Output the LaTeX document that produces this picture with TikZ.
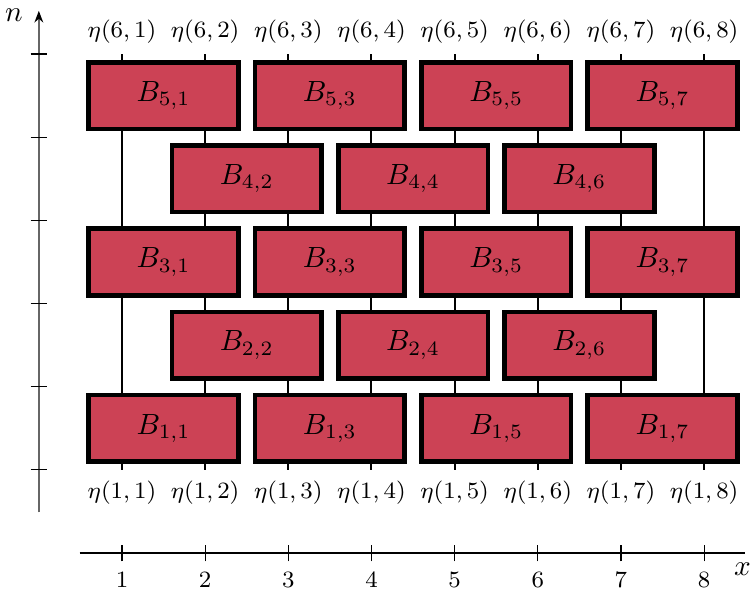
\documentclass[tikz,border=0pt]{standalone}
\usetikzlibrary{arrows.meta}
\definecolor{blockred}{RGB}{204,66,85}
\begin{document}
\begin{tikzpicture}[
  blk/.style={draw=black, line width=1.6pt, fill=blockred, minimum width=1.8cm, minimum height=0.8cm, inner sep=0pt, font=\normalsize},
  wire/.style={line width=0.7pt},
  etalab/.style={font=\footnotesize, inner sep=0pt},
  ticklab/.style={font=\footnotesize, inner sep=0pt}
]
\useasboundingbox (-0.467,-0.493) rectangle (8.60,6.65);
% axes
\coordinate (ybot) at (0,0.49);
\coordinate (ytop) at (0,6.52);
\draw[gray!80!black, line width=0.6pt, -{Stealth[length=4pt,width=3pt,black]}] (ybot) -- (ytop);
\node[inner sep=0pt] (nlab) at (-0.3,6.47) {$n$};
\foreach \k in {1,...,6} {
  \coordinate (yt\k) at (0,\k);
  \draw[line width=0.4pt] ([xshift=-0.1cm]yt\k) -- ([xshift=0.1cm]yt\k);
}
\coordinate (xl) at (0.49,0);
\coordinate (xr) at (8.49,0);
\draw[line width=0.5pt] (xl) -- (xr);
\node[inner sep=0pt] (xlab) at (8.46,-0.2) {$x$};
\foreach \j in {1,...,8} {
  \coordinate (xt\j) at (\j,0);
  \draw[line width=0.4pt] ([yshift=-0.1cm]xt\j) -- ([yshift=0.1cm]xt\j);
  \node[ticklab] (tl\j) at (\j,-0.33) {$\j$};
  % wires
  \coordinate (wb\j) at (\j,1);
  \coordinate (wt\j) at (\j,6);
  \draw[wire] (wb\j) -- (wt\j);
  \node[etalab] (eb\j) at (\j,0.72) {$\eta(1,\j)$};
  \node[etalab] (et\j) at (\j,6.27) {$\eta(6,\j)$};
}
% blocks
\foreach \k in {1,3,5} {
  \foreach \j in {1,3,5,7} {
    \node[blk] (B\k\j) at (\j+0.5,\k+0.5) {$B_{\k,\j}$};
  }
}
\foreach \k in {2,4} {
  \foreach \j in {2,4,6} {
    \node[blk] (B\k\j) at (\j+0.5,\k+0.5) {$B_{\k,\j}$};
  }
}
\end{tikzpicture}
\end{document}
